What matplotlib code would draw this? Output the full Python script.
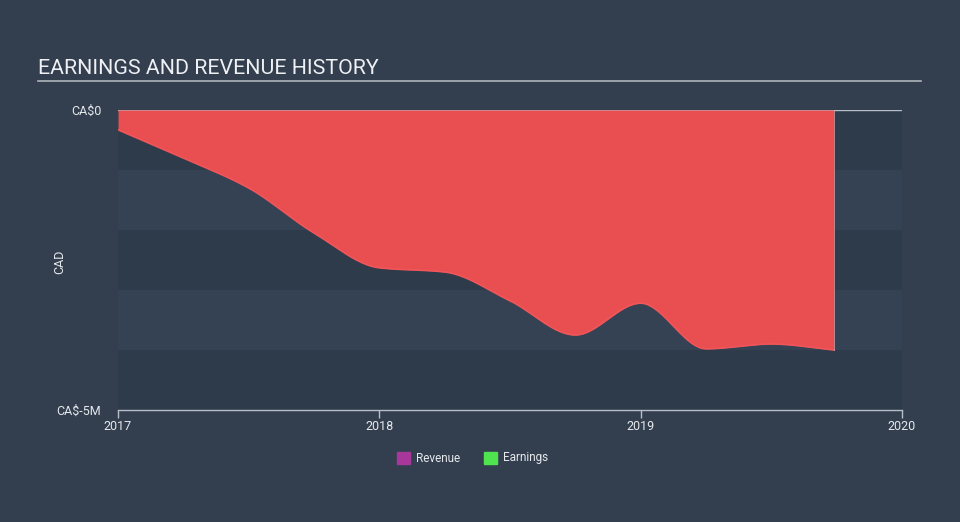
import numpy as np
import matplotlib.pyplot as plt
from matplotlib.patches import Rectangle

plt.rcParams['font.family'] = ['Roboto', 'DejaVu Sans']

# earnings history (CA$ millions), x in decimal years
years = [2017.0, 2017.25, 2017.5, 2017.75, 2018.0, 2018.25, 2018.5, 2018.75,
         2019.0, 2019.25, 2019.5, 2019.74]
earnings = [-0.33, -0.80, -1.30, -2.05, -2.63, -2.70, -3.18, -3.75,
            -3.22, -3.98, -3.90, -4.00]
x_ticks = [2017, 2018, 2019, 2020]
x_labels = ['2017', '2018', '2019', '2020']
y_ticks = [-5, 0]
y_labels = ['CA$-5M', 'CA$0']
legend_names = ['Revenue', 'Earnings']
legend_colors = ['#a8379b', '#4fe34f']

BG = '#333f4f'
RED = '#e94f51'


def smooth(x, y, n=40):
    # monotone cubic hermite for the drawn path
    x = np.asarray(x, float)
    y = np.asarray(y, float)
    h = np.diff(x)
    d = np.diff(y) / h
    m = np.zeros_like(y)
    m[0], m[-1] = d[0], d[-1]
    for i in range(1, len(y) - 1):
        if d[i - 1] * d[i] <= 0:
            m[i] = 0
        else:
            w1 = 2 * h[i] + h[i - 1]
            w2 = h[i] + 2 * h[i - 1]
            m[i] = (w1 + w2) / (w1 / d[i - 1] + w2 / d[i])
    xs, ys = [], []
    for i in range(len(x) - 1):
        t = np.linspace(0, 1, n, endpoint=False)
        h00 = 2 * t**3 - 3 * t**2 + 1
        h10 = t**3 - 2 * t**2 + t
        h01 = -2 * t**3 + 3 * t**2
        h11 = t**3 - t**2
        xs.append(x[i] + t * h[i])
        ys.append(h00 * y[i] + h10 * h[i] * m[i] + h01 * y[i + 1] + h11 * h[i] * m[i + 1])
    xs.append([x[-1]])
    ys.append([y[-1]])
    return np.concatenate(xs), np.concatenate(ys)


fig = plt.figure(figsize=(9.6, 5.22), dpi=100)
fig.patch.set_facecolor(BG)

ax = fig.add_axes([118 / 960, 112 / 522, 784 / 960, 300 / 522])
ax.set_facecolor(BG)
ax.set_xlim(2017, 2020)
ax.set_ylim(-5, 0)

# alternating horizontal bands
for i in range(5):
    col = '#2e3b4b' if i % 2 == 0 else '#344254'
    ax.axhspan(-i - 1, -i, color=col, zorder=0, lw=0)

xs, ys = smooth(years, earnings)
ax.fill_between(xs, ys, 0, color=RED, lw=0, zorder=2)
ax.plot(xs, ys, color='#f0555a', lw=1.2, zorder=3)
ax.plot([years[-1], years[-1]], [earnings[-1], 0], color='#c9c9d0', lw=0.6, alpha=0.6, zorder=3)
ax.axhline(0, color='#b8bec8', lw=1, zorder=1)

for s in ['top', 'right', 'left']:
    ax.spines[s].set_visible(False)
ax.spines['bottom'].set_color('#b8bec8')
ax.spines['bottom'].set_linewidth(1)

ax.set_xticks(x_ticks)
ax.set_xticklabels(x_labels)
ax.set_yticks(y_ticks)
ax.set_yticklabels(y_labels)
ax.tick_params(axis='x', colors='#b8bec8', length=6, width=1, labelcolor='#e6e8ec',
               labelsize=9, pad=1)
ax.tick_params(axis='y', length=0, labelcolor='#e6e8ec', labelsize=9, pad=12)

fig.text(60 / 960, 1 - 262 / 522, 'CAD', color='#e6e8ec', fontsize=9,
         rotation=90, va='center', ha='center')

# title and underline
fig.text(38 / 960, 1 - 68 / 522, 'EARNINGS AND REVENUE HISTORY', color='#eef0f3',
         fontsize=15.4, va='center', ha='left')
fig.add_artist(plt.Line2D([38 / 960, 921 / 960], [1 - 81 / 522, 1 - 81 / 522],
                          color='#aeb4bd', lw=1.2))

# legend
lx = [397, 484]
for name, col, x0 in zip(legend_names, legend_colors, lx):
    fig.add_artist(Rectangle((x0 / 960, 1 - 464 / 522), 13 / 960, 12 / 522,
                             color=col, transform=fig.transFigure))
    fig.text((x0 + 19) / 960, 1 - 458 / 522, name, color='#e6e8ec', fontsize=8.5,
             va='center', ha='left')

fig.savefig('out.png', dpi=100, facecolor=BG)
